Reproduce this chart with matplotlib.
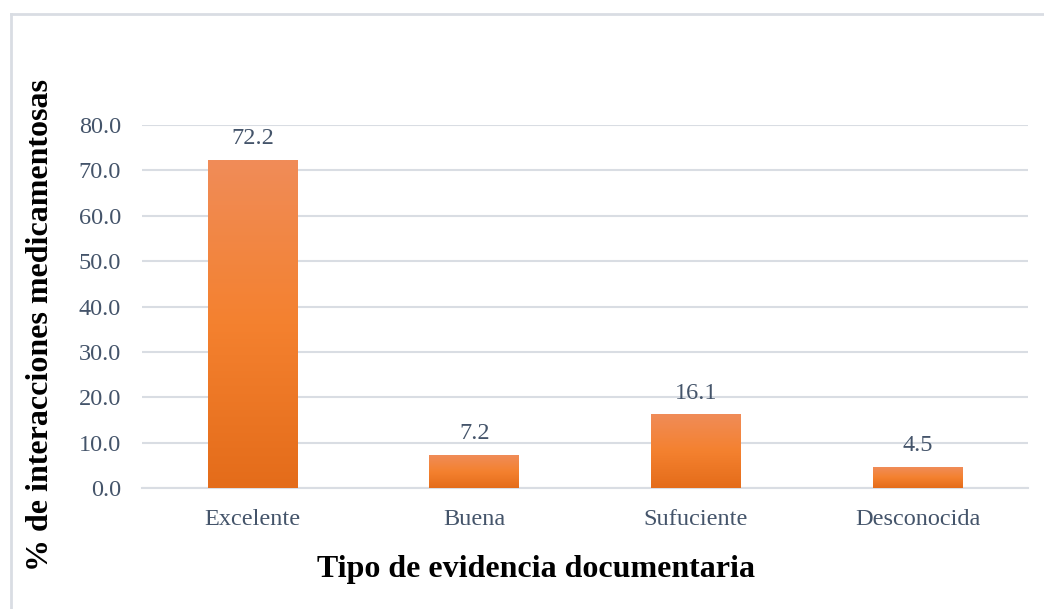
import numpy as np
import matplotlib.pyplot as plt
from matplotlib.colors import LinearSegmentedColormap
from matplotlib.lines import Line2D

categorias = ['Excelente', 'Buena', 'Sufuciente', 'Desconocida']
porcentajes = [72.2, 7.2, 16.1, 4.5]
yticks = [0, 10, 20, 30, 40, 50, 60, 70, 80]

plt.rcParams['font.family'] = ['Liberation Serif', 'DejaVu Serif']

texto_color = '#44546A'
grid_color = '#D9DDE3'

fig = plt.figure(figsize=(10.44, 6.09), dpi=100)
ax = fig.add_axes([0.136, 0.1987, 0.849, 0.596])

x = np.arange(len(categorias))
bars = ax.bar(x, porcentajes, width=0.406, color='#F4812F', zorder=2)

# degradado vertical en cada barra (claro arriba, oscuro abajo)
cmap = LinearSegmentedColormap.from_list('naranja', ['#E46C1A', '#F4812F', '#F08C58'])
grad = np.linspace(0, 1, 256).reshape(-1, 1)
for b in bars:
    x0, w, h = b.get_x(), b.get_width(), b.get_height()
    ax.imshow(grad, cmap=cmap, origin='lower', aspect='auto',
              extent=[x0, x0 + w, 0, h], zorder=3)
    b.set_visible(False)

for xi, v in zip(x, porcentajes):
    ax.annotate(f'{v:.1f}', (xi, v), xytext=(0, 8), textcoords='offset points',
                ha='center', va='bottom', fontsize=17.5, color=texto_color)

ax.set_xlim(-0.5, len(categorias) - 0.5)
ax.set_ylim(0, 80)
ax.set_yticks(yticks)
ax.set_yticklabels([f'{t:.1f}' for t in yticks])
ax.set_xticks(x)
ax.set_xticklabels(categorias)
ax.tick_params(axis='y', length=0, pad=15, labelsize=17.5, labelcolor=texto_color)
ax.tick_params(axis='x', length=0, pad=15, labelsize=17.5, labelcolor=texto_color)

ax.grid(axis='y', color=grid_color, linewidth=1.5, zorder=0)
ax.set_axisbelow(True)
for s in ['top', 'right', 'left']:
    ax.spines[s].set_visible(False)
ax.spines['bottom'].set_color(grid_color)
ax.spines['bottom'].set_linewidth(1.5)

fig.text(41 / 1044, 1 - 325 / 609, '% de interacciones medicamentosas',
         rotation=90, ha='center', va='center', fontsize=23, fontweight='bold')
fig.text(536 / 1044, 1 - 570 / 609, 'Tipo de evidencia documentaria',
         ha='center', va='center', fontsize=23, fontweight='bold')

# borde del área del gráfico (recortado a la derecha y abajo)
fig.add_artist(Line2D([11 / 1044, 1], [1 - 14 / 609] * 2, color='#D9DDE3', lw=2,
                      transform=fig.transFigure))
fig.add_artist(Line2D([11 / 1044] * 2, [0, 1 - 14 / 609], color='#D9DDE3', lw=2,
                      transform=fig.transFigure))

fig.savefig('out.png', dpi=100)
